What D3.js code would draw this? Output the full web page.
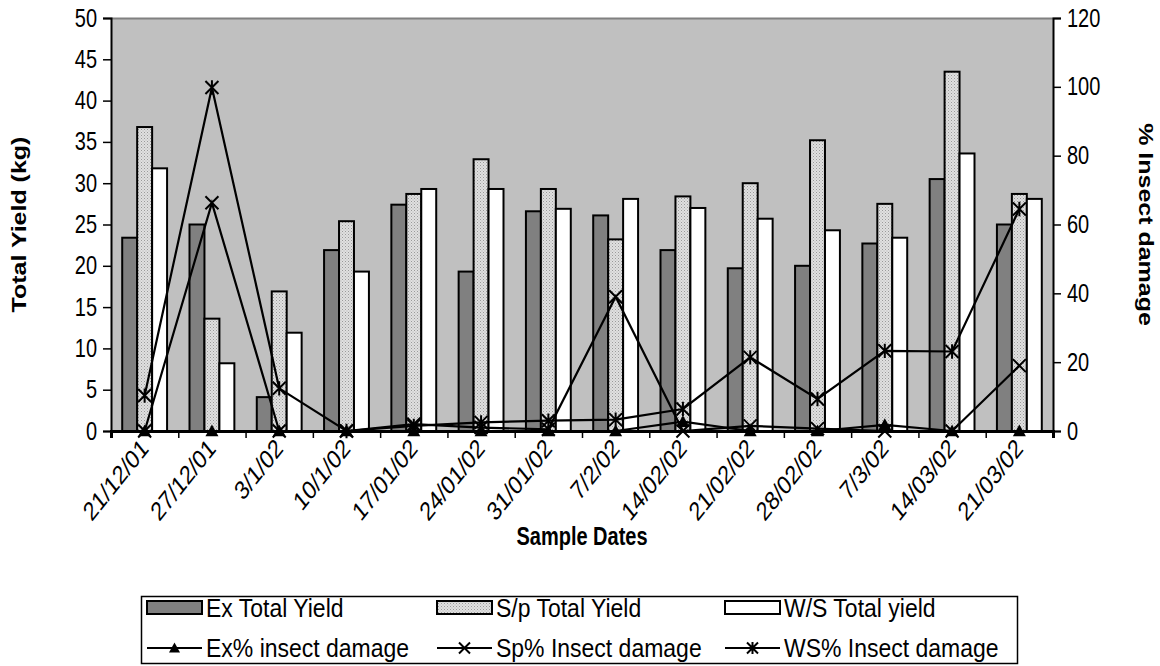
<!DOCTYPE html>
<html>
<head>
<meta charset="utf-8">
<script src="https://cdn.jsdelivr.net/npm/d3@7"></script>
<style>
  body { margin: 0; background: #fff; }
  svg { display: block; font-family: "Liberation Sans", Arial, sans-serif; }
</style>
</head>
<body>
<svg id="chart" width="1160" height="666"></svg>
<script>
// Sample dates (categories)
const dates = ["21/12/01","27/12/01","3/1/02","10/1/02","17/01/02","24/01/02","31/01/02",
               "7/2/02","14/02/02","21/02/02","28/02/02","7/3/02","14/03/02","21/03/02"];

// Total yield (kg) per treatment
const exYield = [23.4, 25.0, 4.1, 21.9, 27.4, 19.3, 26.6, 26.1, 21.9, 19.7, 20.0, 22.7, 30.5, 25.0];
const spYield = [36.8, 13.6, 16.9, 25.4, 28.7, 32.9, 29.3, 23.2, 28.4, 30.0, 35.2, 27.5, 43.5, 28.7];
const wsYield = [31.8, 8.2, 11.9, 19.3, 29.3, 29.3, 26.9, 28.1, 27.0, 25.7, 24.3, 23.4, 33.6, 28.1];

// % insect damage per treatment
const exDamage = [0, 0, 0, 0, 0, 0, 0, 0, 2.7, 0, 0, 1.8, 0, 0];
const spDamage = [0, 66.3, 0, 0, 2, 1, 0.5, 39, 0, 1.5, 0.7, 0, 0, 19];
const wsDamage = [10.3, 99.8, 12.4, 0, 1.5, 2.5, 3, 3.3, 6.4, 21.4, 9.3, 23.3, 23.1, 64.5];

// Axis ticks
const leftTicks = [0, 5, 10, 15, 20, 25, 30, 35, 40, 45, 50];
const rightTicks = [0, 20, 40, 60, 80, 100, 120];

const barSeries = [
  { key: "ex", name: "Ex Total Yield", values: exYield, fill: "#808080" },
  { key: "sp", name: "S/p Total Yield", values: spYield, fill: "url(#dots)" },
  { key: "ws", name: "W/S Total yield", values: wsYield, fill: "#ffffff" }
];
const lineSeries = [
  { key: "ex", name: "Ex% insect damage", values: exDamage, marker: "triangle" },
  { key: "sp", name: "Sp% Insect damage", values: spDamage, marker: "cross" },
  { key: "ws", name: "WS% Insect damage", values: wsDamage, marker: "star" }
];

const svg = d3.select("#chart");
const L = 111, R = 1053, T = 18, B = 431;
const fontSize = "20px";
const tall = "scale(1,1.25)";   // the text face is drawn narrow and tall

// dotted fill for the S/p bars
const defs = svg.append("defs");
const pat = defs.append("pattern").attr("id", "dots")
  .attr("width", 3).attr("height", 3).attr("patternUnits", "userSpaceOnUse");
pat.append("rect").attr("width", 3).attr("height", 3).attr("fill", "#e0e0e0");
pat.append("rect").attr("x", 0).attr("y", 0).attr("width", 1).attr("height", 1).attr("fill", "#9a9a9a");
pat.append("rect").attr("x", 1.5).attr("y", 1.5).attr("width", 1).attr("height", 1).attr("fill", "#b0b0b0");

const x = d3.scaleBand().domain(dates).range([L, R]).paddingInner(0).paddingOuter(0);
const xInner = d3.scaleBand().domain(barSeries.map(s => s.key))
  .range([0, x.bandwidth()]).paddingInner(0).paddingOuter(0.75);
const xEdges = d3.scaleLinear().domain([0, dates.length]).range([L, R]);
const yL = d3.scaleLinear().domain([0, 50]).range([B, T]);
const yR = d3.scaleLinear().domain([0, 120]).range([B, T]);

// plot area
svg.append("rect").attr("x", L).attr("y", T).attr("width", R - L).attr("height", B - T)
  .attr("fill", "#c0c0c0");
svg.append("line").attr("x1", L).attr("x2", R).attr("y1", T + 0.5).attr("y2", T + 0.5)
  .attr("stroke", "#808080").attr("stroke-width", 2);

// bars
barSeries.forEach(s => {
  svg.append("g").selectAll("rect").data(s.values).join("rect")
    .attr("x", (d, i) => x(dates[i]) + xInner(s.key))
    .attr("y", d => yL(d))
    .attr("width", xInner.bandwidth())
    .attr("height", d => yL(0) - yL(d))
    .attr("fill", s.fill)
    .attr("stroke", "#000").attr("stroke-width", 2);
});

// axes
const gL = svg.append("g").attr("transform", `translate(${L},0)`)
  .call(d3.axisLeft(yL).tickValues(leftTicks).tickSize(8).tickPadding(6));
const gR = svg.append("g").attr("transform", `translate(${R},0)`)
  .call(d3.axisRight(yR).tickValues(rightTicks).tickSize(8).tickPadding(6));
const gB = svg.append("g").attr("transform", `translate(0,${B})`)
  .call(d3.axisBottom(xEdges).tickValues(d3.range(0, dates.length + 1)).tickSize(7).tickFormat(""));
[gL, gR, gB].forEach(g => {
  g.select(".domain").attr("stroke", "#000").attr("stroke-width", 2);
  g.selectAll(".tick line").attr("stroke", "#000").attr("stroke-width", 1.5);
  g.selectAll("text").attr("font-size", fontSize).attr("fill", "#000")
    .attr("font-family", "'Liberation Sans', Arial, sans-serif")
    .attr("transform", tall);
});
gB.select(".domain").attr("stroke-width", 3);

// rotated date labels
svg.append("g").selectAll("text").data(dates).join("text")
  .attr("transform", d => `translate(${x(d) + x.bandwidth() / 2 + 5},${B + 19}) ${tall} rotate(-45)`)
  .attr("text-anchor", "end")
  .attr("font-size", "21px")
  .text(d => d);

// markers
function marker(sel, type, size) {
  const h = size / 2;
  if (type === "triangle") {
    sel.append("path").attr("d", `M0,${-h}L${h},${h * 0.8}L${-h},${h * 0.8}Z`)
      .attr("fill", "#000").attr("stroke", "none");
  } else if (type === "cross") {
    sel.append("path").attr("d", `M${-h},${-h}L${h},${h}M${-h},${h}L${h},${-h}`)
      .attr("stroke", "#000").attr("stroke-width", 2).attr("fill", "none");
  } else {
    sel.append("path").attr("d", `M${-h},${-h}L${h},${h}M${-h},${h}L${h},${-h}M0,${-h * 1.1}L0,${h * 1.1}`)
      .attr("stroke", "#000").attr("stroke-width", 2).attr("fill", "none");
  }
}

// damage lines on the right axis
const line = d3.line()
  .x((d, i) => x(dates[i]) + x.bandwidth() / 2)
  .y(d => yR(d));
lineSeries.forEach(s => {
  svg.append("path").datum(s.values).attr("d", line)
    .attr("fill", "none").attr("stroke", "#000").attr("stroke-width", 2.2);
  const g = svg.append("g");
  s.values.forEach((v, i) => {
    const m = g.append("g").attr("transform", `translate(${x(dates[i]) + x.bandwidth() / 2},${yR(v)})`);
    marker(m, s.marker, 13);
  });
});

// axis titles
svg.append("text").attr("transform", `translate(26,${(T + B) / 2}) ${tall} rotate(-90)`)
  .attr("text-anchor", "middle").attr("font-size", fontSize).attr("font-weight", "bold")
  .text("Total Yield (kg)");
svg.append("text").attr("transform", `translate(1139,${(T + B) / 2}) ${tall} rotate(90)`)
  .attr("text-anchor", "middle").attr("font-size", fontSize).attr("font-weight", "bold")
  .text("% Insect damage");
svg.append("text").attr("transform", `translate(582,545) ${tall}`)
  .attr("text-anchor", "middle").attr("font-size", fontSize).attr("font-weight", "bold")
  .text("Sample Dates");

// legend
const lg = svg.append("g");
lg.append("rect").attr("x", 141.5).attr("y", 596.5).attr("width", 876).attr("height", 67)
  .attr("fill", "#fff").attr("stroke", "#000").attr("stroke-width", 1.5);
const cols = [147, 437, 725];
function legendText(xp, yp, txt) {
  lg.append("text").attr("transform", `translate(${xp},${yp}) scale(1,1.1)`)
    .attr("font-size", "23px").text(txt);
}
barSeries.forEach((s, i) => {
  lg.append("rect").attr("x", cols[i]).attr("y", 601).attr("width", 55).attr("height", 13)
    .attr("fill", s.fill).attr("stroke", "#000").attr("stroke-width", 2);
  legendText(cols[i] + 59, 617, s.name);
});
lineSeries.forEach((s, i) => {
  lg.append("line").attr("x1", cols[i]).attr("x2", cols[i] + 55).attr("y1", 648).attr("y2", 648)
    .attr("stroke", "#000").attr("stroke-width", 2);
  const m = lg.append("g").attr("transform", `translate(${cols[i] + 27.5},648)`);
  marker(m, s.marker, 11);
  legendText(cols[i] + 59, 657, s.name);
});
</script>
</body>
</html>
